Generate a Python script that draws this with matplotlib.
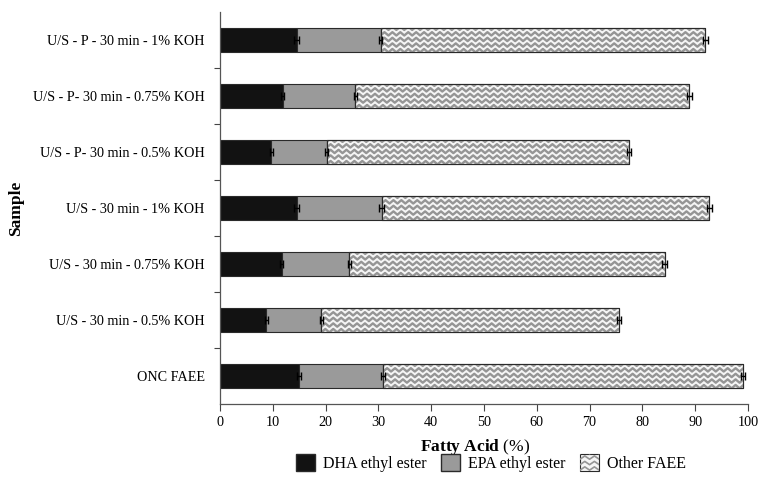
import numpy as np
import matplotlib
matplotlib.use("Agg")
import matplotlib.pyplot as plt
from matplotlib.patches import Rectangle, Patch
from matplotlib.collections import LineCollection
from matplotlib.legend_handler import HandlerBase

plt.rcParams['font.family'] = ['Liberation Serif', 'DejaVu Serif']
plt.rcParams['mathtext.fontset'] = 'custom'
plt.rcParams['mathtext.rm'] = 'Liberation Serif'
plt.rcParams['mathtext.bf'] = 'Liberation Serif:bold'

# samples, bottom to top
samples = [
    "ONC FAEE",
    "U/S - 30 min - 0.5% KOH",
    "U/S - 30 min - 0.75% KOH",
    "U/S - 30 min - 1% KOH",
    "U/S - P- 30 min - 0.5% KOH",
    "U/S - P- 30 min - 0.75% KOH",
    "U/S - P - 30 min - 1% KOH",
]
dha = [15.0, 8.8, 11.7, 14.5, 9.7, 11.9, 14.5]
epa = [15.9, 10.4, 12.8, 16.1, 10.5, 13.7, 15.9]
other = [68.2, 56.3, 59.7, 62.1, 57.3, 63.3, 61.5]
dha_err = [0.4, 0.3, 0.3, 0.4, 0.3, 0.3, 0.4]
epa_err = [0.4, 0.3, 0.3, 0.4, 0.3, 0.3, 0.3]
other_err = [0.4, 0.4, 0.4, 0.5, 0.4, 0.5, 0.5]
series_names = ["DHA ethyl ester", "EPA ethyl ester", "Other FAEE"]

DHA_COL = "#121212"
EPA_COL = "#9a9a9a"
WAVE_COL = "#959595"
WAVE_BG = "#f5f5f5"
EDGE = "#2a2a2a"


def wave_segments(x0, x1, y0, y1, period, amp, spacing):
    # zigzag rows filling a box
    segs = []
    ys = np.arange(y0 - spacing, y1 + spacing, spacing)
    xs = np.arange(x0 - period, x1 + period, period / 2.0)
    for yc in ys:
        pts = [(x, yc + (amp if i % 2 else -amp)) for i, x in enumerate(xs)]
        segs.append(pts)
    return segs


class WaveHandler(HandlerBase):
    def create_artists(self, legend, orig_handle, xdescent, ydescent,
                       width, height, fontsize, trans):
        rect = Rectangle((-xdescent, -ydescent), width, height,
                         facecolor=WAVE_BG, edgecolor=EDGE, lw=0.8,
                         transform=trans)
        segs = wave_segments(-xdescent, -xdescent + width, -ydescent + 1.5,
                             -ydescent + height, width / 2.0, height * 0.1,
                             height / 3.0)
        lc = LineCollection(segs, colors=WAVE_COL, linewidths=1.2,
                            transform=trans)
        lc.set_clip_path(rect)
        return [rect, lc]


fig = plt.figure(figsize=(7.6, 4.82), dpi=100)
ax = fig.add_axes([220 / 760, 1 - 404 / 482, 528 / 760, 392 / 482])

y = np.arange(len(samples))
h = 0.42
dha_a = np.array(dha)
epa_a = np.array(epa)
oth_a = np.array(other)

ax.barh(y, dha_a, height=h, color=DHA_COL, edgecolor=EDGE, linewidth=0.8, zorder=2)
ax.barh(y, epa_a, left=dha_a, height=h, color=EPA_COL, edgecolor=EDGE, linewidth=0.8, zorder=2)
obars = ax.barh(y, oth_a, left=dha_a + epa_a, height=h, color=WAVE_BG,
                edgecolor=EDGE, linewidth=0.8, zorder=2)

ax.set_xlim(0, 100)
ax.set_ylim(-0.5, len(samples) - 0.5)

# wavy fill for the "other" segments
for p in obars.patches:
    x0, yb = p.get_x(), p.get_y()
    segs = wave_segments(x0, x0 + p.get_width(), yb + 0.02, yb + p.get_height(),
                         1.5, 0.03, 0.1)
    lc = LineCollection(segs, colors=WAVE_COL, linewidths=1.7, zorder=2.5)
    ax.add_collection(lc)
    lc.set_clip_path(p)
    # redraw outline on top
    ax.add_patch(Rectangle((x0, yb), p.get_width(), p.get_height(),
                           fill=False, edgecolor=EDGE, lw=0.8, zorder=3))

ek = dict(fmt="none", ecolor="black", elinewidth=1.0, capsize=3, capthick=1.0, zorder=4)
ax.errorbar(dha_a, y, xerr=dha_err, **ek)
ax.errorbar(dha_a + epa_a, y, xerr=epa_err, **ek)
ax.errorbar(dha_a + epa_a + oth_a, y, xerr=other_err, **ek)

ax.set_xticks(np.arange(0, 101, 10))
ax.set_yticks(y)
ax.set_yticklabels(samples)
ax.set_yticks(np.arange(-0.5, len(samples) - 0.5, 1)[1:], minor=True)
ax.tick_params(axis="y", which="major", length=0, pad=11, labelsize=10.2)
ax.tick_params(axis="y", which="minor", length=4, width=0.8, color="#444444")
ax.tick_params(axis="x", length=5, width=0.8, color="#444444", labelsize=10.2)

for s in ["top", "right"]:
    ax.spines[s].set_visible(False)
for s in ["left", "bottom"]:
    ax.spines[s].set_color("#555555")
    ax.spines[s].set_linewidth(0.9)

ax.set_xlabel(r"$\mathbf{Fatty}$ $\mathbf{Acid}$ (%)", fontsize=12.5, labelpad=3)
ax.xaxis.set_label_coords(0.483, -0.085)
fig.text(16 / 760, 1 - 208 / 482, "Sample", rotation=90, fontsize=12.5,
         fontweight="bold", ha="center", va="center")

handles = [Patch(facecolor=DHA_COL, edgecolor=EDGE),
           Patch(facecolor=EPA_COL, edgecolor=EDGE),
           Patch(facecolor="white", edgecolor=EDGE)]
fig.legend(handles, series_names, loc="center", bbox_to_anchor=(491 / 760, 1 - 463 / 482),
           ncol=3, frameon=False, fontsize=11.5, handlelength=1.2, handleheight=1.2,
           handletextpad=0.5, columnspacing=0.9,
           handler_map={handles[2]: WaveHandler()})

fig.savefig("out.png", dpi=100)
